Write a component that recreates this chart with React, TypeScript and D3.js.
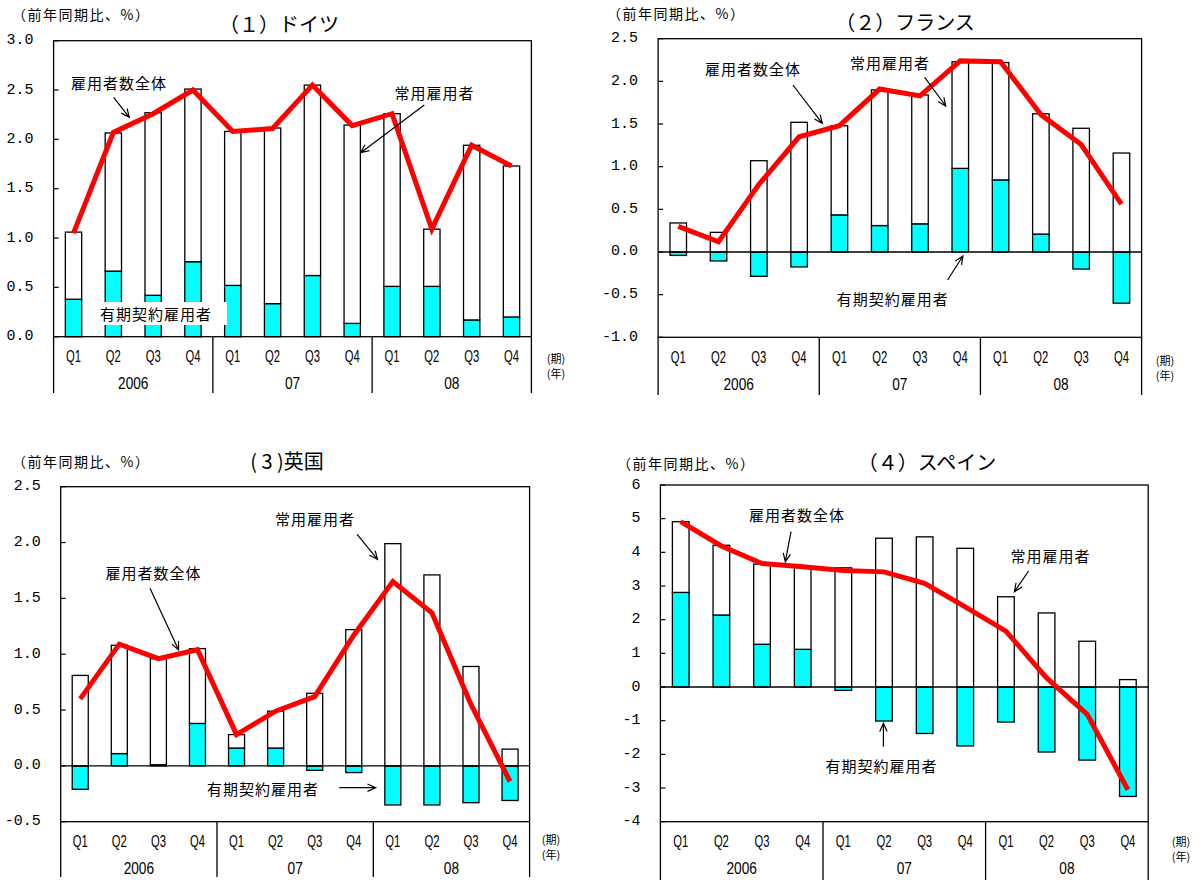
import React from 'react';
import * as d3 from 'd3';

// categories
const quarters = ['Q1', 'Q2', 'Q3', 'Q4', 'Q1', 'Q2', 'Q3', 'Q4', 'Q1', 'Q2', 'Q3', 'Q4'];
const years = ['2006', '07', '08'];

// (1) Germany
const deRegular = [0.68, 1.40, 1.85, 1.75, 1.56, 1.78, 1.93, 2.01, 1.75, 0.58, 1.77, 1.53];
const deFixed = [0.38, 0.665, 0.42, 0.76, 0.52, 0.335, 0.62, 0.135, 0.51, 0.51, 0.17, 0.20];
const deTotal = [1.05, 2.07, 2.26, 2.50, 2.08, 2.11, 2.55, 2.14, 2.26, 1.09, 1.94, 1.73];

// (2) France
const frRegular = [0.34, 0.23, 1.07, 1.52, 1.045, 1.59, 1.51, 1.25, 1.375, 1.41, 1.45, 1.16];
const frFixed = [-0.04, -0.105, -0.285, -0.175, 0.435, 0.31, 0.33, 0.98, 0.845, 0.21, -0.20, -0.60];
const frTotal = [0.30, 0.12, 0.79, 1.35, 1.48, 1.91, 1.83, 2.24, 2.23, 1.61, 1.26, 0.56];

// (3) UK
const ukRegular = [0.81, 0.97, 0.95, 0.67, 0.12, 0.33, 0.65, 1.22, 1.99, 1.71, 0.89, 0.15];
const ukFixed = [-0.21, 0.11, 0.01, 0.38, 0.16, 0.16, -0.04, -0.06, -0.35, -0.35, -0.33, -0.31];
const ukTotal = [0.60, 1.09, 0.96, 1.04, 0.28, 0.49, 0.62, 1.17, 1.65, 1.37, 0.55, -0.14];

// (4) Spain
const esRegular = [2.10, 2.07, 2.38, 2.45, 3.54, 4.42, 4.46, 4.12, 2.68, 2.20, 1.36, 0.22];
const esFixed = [2.81, 2.14, 1.27, 1.12, -0.10, -1.01, -1.38, -1.75, -1.04, -1.93, -2.17, -3.25];
const esTotal = [4.91, 4.19, 3.67, 3.57, 3.46, 3.42, 3.08, 2.38, 1.66, 0.27, -0.81, -3.05];

const JP = '"Noto Sans CJK JP", sans-serif';
const NUM = '"Liberation Mono", "DejaVu Sans Mono", monospace';
const NARROW = '"Liberation Sans", sans-serif';

type Note = { text: string; x: number; y: number; from?: [number, number]; to?: [number, number]; bg?: boolean };

type PanelCfg = {
  title: string;
  titleX: number;
  titleY: number;
  unitX: number;
  unitY: number;
  left: number;
  right: number;
  top: number;
  bottom: number;
  catBottom: number;
  domain: [number, number];
  step: number;
  decimals: number;
  markX: number;
  markY: number;
  regular: number[];
  fixed: number[];
  total: number[];
  notes: Note[];
};

const panels: PanelCfg[] = [
  {
    title: '（１）ドイツ', titleX: 279, titleY: 23, unitX: 12, unitY: 14,
    left: 53.6, right: 531.4, top: 40.7, bottom: 336.7, catBottom: 393,
    domain: [0, 3], step: 0.5, decimals: 1, markX: 556, markY: 358,
    regular: deRegular, fixed: deFixed, total: deTotal,
    notes: [
      { text: '雇用者数全体', x: 71, y: 82, from: [113.6, 97.3], to: [129.3, 117.3] },
      { text: '常用雇用者', x: 394.6, y: 92, from: [424.3, 105], to: [360.7, 152.7] },
      { text: '有期契約雇用者', x: 100, y: 313, bg: true },
    ],
  },
  {
    title: '（２）フランス', titleX: 905, titleY: 21, unitX: 607, unitY: 13,
    left: 658.1, right: 1141.6, top: 38.7, bottom: 337.3, catBottom: 395,
    domain: [-1, 2.5], step: 0.5, decimals: 1, markX: 1165, markY: 360,
    regular: frRegular, fixed: frFixed, total: frTotal,
    notes: [
      { text: '雇用者数全体', x: 705, y: 68, from: [792.9, 85], to: [822.3, 123.3] },
      { text: '常用雇用者', x: 850, y: 62, from: [924.7, 77.3], to: [945.7, 106] },
      { text: '有期契約雇用者', x: 836.8, y: 298, from: [947.6, 280], to: [962.9, 256] },
    ],
  },
  {
    title: '( 3 )英国', titleX: 287, titleY: 460, unitX: 12, unitY: 461,
    left: 60.7, right: 529.6, top: 486.7, bottom: 821.7, catBottom: 877,
    domain: [-0.5, 2.5], step: 0.5, decimals: 1, markX: 551, markY: 839,
    regular: ukRegular, fixed: ukFixed, total: ukTotal,
    notes: [
      { text: '常用雇用者', x: 275, y: 518, from: [357.1, 534.3], to: [377.5, 559.3] },
      { text: '雇用者数全体', x: 105.4, y: 572, from: [150, 588.3], to: [178.6, 650] },
      { text: '有期契約雇用者', x: 207, y: 788, from: [339.3, 787.7], to: [375.7, 787.7] },
    ],
  },
  {
    title: '（４）スペイン', titleX: 927, titleY: 461, unitX: 617, unitY: 463,
    left: 660.4, right: 1148.2, top: 485, bottom: 821.7, catBottom: 880,
    domain: [-4, 6], step: 1, decimals: 0, markX: 1181, markY: 841,
    regular: esRegular, fixed: esFixed, total: esTotal,
    notes: [
      { text: '雇用者数全体', x: 749, y: 514, from: [791, 531.7], to: [785.3, 561.7] },
      { text: '常用雇用者', x: 1010.6, y: 555, from: [1028.6, 571], to: [1014.4, 591.7] },
      { text: '有期契約雇用者', x: 825.4, y: 765, from: [883.4, 746.7], to: [883.4, 723.3] },
    ],
  },
];

const arrowPath = (from: [number, number], to: [number, number]) => {
  const a = Math.atan2(to[1] - from[1], to[0] - from[0]);
  const len = 9;
  const spread = 0.42;
  const p1 = [to[0] - len * Math.cos(a - spread), to[1] - len * Math.sin(a - spread)];
  const p2 = [to[0] - len * Math.cos(a + spread), to[1] - len * Math.sin(a + spread)];
  return `M${from[0]},${from[1]}L${to[0]},${to[1]}M${p1[0]},${p1[1]}L${to[0]},${to[1]}L${p2[0]},${p2[1]}`;
};

const Panel: React.FC<{ cfg: PanelCfg; idx: number }> = ({ cfg, idx }) => {
  const rows = quarters.map((q, i) => ({ key: `${i}`, q, fixed: cfg.fixed[i], regular: cfg.regular[i], total: cfg.total[i] }));

  const x = d3.scaleBand<string>()
    .domain(rows.map(r => r.key))
    .range([cfg.left, cfg.right])
    .padding(0);
  const y = d3.scaleLinear().domain(cfg.domain).range([cfg.bottom, cfg.top]);

  const barW = x.bandwidth() * 0.41;
  const stack = d3.stack<any>()
    .keys(['fixed', 'regular'])
    .offset(d3.stackOffsetDiverging)(rows);

  const ticks = d3.range(cfg.domain[0], cfg.domain[1] + cfg.step / 2, cfg.step);
  const fmt = (v: number) => (Math.abs(v) < 1e-9 ? (0).toFixed(cfg.decimals) : v.toFixed(cfg.decimals));

  const line = d3.line<any>()
    .x(d => (x(d.key) as number) + x.bandwidth() / 2)
    .y(d => y(d.total));

  const groupW = x.step() * 4;

  return (
    <g>
      {/* title and unit */}
      <text x={cfg.titleX} y={cfg.titleY} textAnchor="middle" dominantBaseline="central"
        fontFamily={JP} fontSize={20} fill="#000">{cfg.title}</text>
      <text x={cfg.unitX} y={cfg.unitY} dominantBaseline="central"
        fontFamily={JP} fontSize={14} letterSpacing={1.5} fill="#000">（前年同期比、%）</text>

      {/* bars */}
      {stack.map(s => (
        <g key={s.key}>
          {s.map((d, i) => (
            <rect key={i}
              x={(x(rows[i].key) as number) + (x.bandwidth() - barW) / 2}
              y={y(Math.max(d[0], d[1]))}
              width={barW}
              height={Math.abs(y(d[0]) - y(d[1]))}
              fill={s.key === 'fixed' ? '#00ffff' : '#ffffff'}
              stroke="#000" strokeWidth={1.3} />
          ))}
        </g>
      ))}

      {/* zero line */}
      {cfg.domain[0] < 0 && (
        <line x1={cfg.left} x2={cfg.right} y1={y(0)} y2={y(0)} stroke="#000" strokeWidth={1.3} />
      )}

      {/* total line */}
      <path d={line(rows) || ''} fill="none" stroke="#ff0000" strokeWidth={5} strokeLinejoin="miter" />

      {/* frame */}
      <rect x={cfg.left} y={cfg.top} width={cfg.right - cfg.left} height={cfg.bottom - cfg.top}
        fill="none" stroke="#000" strokeWidth={1.3} />

      {/* y axis */}
      {ticks.map((t, i) => (
        <g key={i}>
          <line x1={cfg.left} x2={cfg.left + 5} y1={y(t)} y2={y(t)} stroke="#000" strokeWidth={1.2} />
          <text x={cfg.left - 20} y={y(t)} textAnchor="end" dominantBaseline="central"
            fontFamily={NUM} fontSize={15} fill="#000">{fmt(t)}</text>
        </g>
      ))}

      {/* category axis */}
      {[0, 1, 2, 3].map(k => (
        <line key={k} x1={cfg.left + k * groupW} x2={cfg.left + k * groupW}
          y1={cfg.bottom} y2={cfg.catBottom} stroke="#000" strokeWidth={1.3} />
      ))}
      {rows.map(r => (
        <text key={r.key} x={(x(r.key) as number) + x.bandwidth() / 2} y={cfg.bottom + 20}
          textAnchor="middle" dominantBaseline="central" fontFamily={NARROW} fontSize={16}
          textLength={15} lengthAdjust="spacingAndGlyphs" fill="#000">{r.q}</text>
      ))}
      {years.map((yr, k) => (
        <text key={yr} x={cfg.left + k * groupW + groupW / 2} y={cfg.bottom + 47}
          textAnchor="middle" dominantBaseline="central" fontFamily={NARROW} fontSize={16}
          textLength={yr.length * 7.6} lengthAdjust="spacingAndGlyphs" fill="#000">{yr}</text>
      ))}
      <text x={cfg.markX} y={cfg.markY} textAnchor="middle" dominantBaseline="central"
        fontFamily={JP} fontSize={11} fill="#000">(期)</text>
      <text x={cfg.markX} y={cfg.markY + 15} textAnchor="middle" dominantBaseline="central"
        fontFamily={JP} fontSize={11} fill="#000">(年)</text>

      {/* annotations */}
      {cfg.notes.map((n, i) => (
        <g key={`${idx}-${i}`}>
          {n.bg && (
            <rect x={n.x - 4} y={n.y - 11} width={n.text.length * 16 + 19} height={23} fill="#fff" />
          )}
          <text x={n.x} y={n.y} dominantBaseline="central" fontFamily={JP} fontSize={15}
            letterSpacing={1} fill="#000">{n.text}</text>
          {n.from && n.to && (
            <path d={arrowPath(n.from, n.to)} fill="none" stroke="#000" strokeWidth={1.2} />
          )}
        </g>
      ))}
    </g>
  );
};

export default function App() {
  return (
    <div style={{ position: 'absolute', left: 0, top: 0 }}>
      <svg width={1199} height={880} style={{ display: 'block', background: '#fff' }}>
        {panels.map((p, i) => (
          <Panel key={i} cfg={p} idx={i} />
        ))}
      </svg>
    </div>
  );
}
